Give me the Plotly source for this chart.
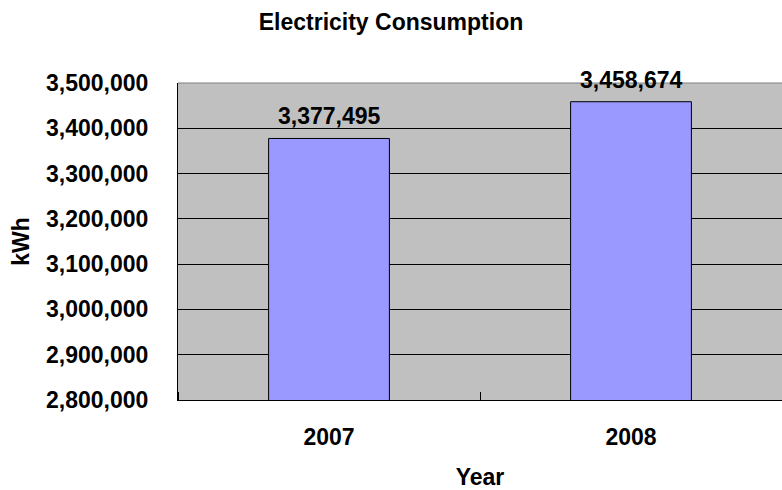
import plotly.graph_objects as go

years = ["2007", "2008"]
consumption = [3377495, 3458674]
y_ticks = [2800000, 2900000, 3000000, 3100000, 3200000, 3300000, 3400000, 3500000]
y_ticktext = [f"{v:,}" for v in y_ticks]
value_labels = [f"{v:,}" for v in consumption]
positions = list(range(len(years)))
boundaries = [p - 0.5 for p in positions] + [positions[-1] + 0.5]

FONT = "Liberation Sans, Arial, sans-serif"
TS = 23

fig = go.Figure()
fig.add_trace(go.Bar(
    x=positions, y=consumption, width=0.4,
    marker=dict(color="#9999FF", line=dict(color="#000000", width=1)),
    hovertext=years, hoverinfo="text+y",
))

for x, y, t in zip(positions, consumption, value_labels):
    fig.add_annotation(x=x, y=y, text=t, showarrow=False, yanchor="bottom",
                       yshift=7, font=dict(family=FONT, size=TS, color="#000", weight="bold"))

fig.update_layout(
    width=782, height=490,
    margin=dict(l=178, r=0, t=83, b=90),
    paper_bgcolor="#FFFFFF", plot_bgcolor="#C0C0C0",
    showlegend=False,
    title=dict(text="Electricity Consumption", x=0.5, xref="container", xanchor="center",
               y=1 - 22 / 490, yref="container", yanchor="middle",
               font=dict(family=FONT, size=23, color="#000", weight="bold")),
    font=dict(family=FONT, color="#000"),
)
fig.update_xaxes(
    range=[boundaries[0], boundaries[-1]], tickvals=positions, ticktext=years,
    showline=True, linecolor="#000", linewidth=1,
    ticks="", showgrid=False, zeroline=False,
    minor=dict(tickvals=boundaries, ticks="inside", ticklen=8, tickcolor="#000", showgrid=False),
    tickfont=dict(family=FONT, size=TS, color="#000", weight="bold"),
    ticklabelstandoff=16,
    title=dict(text="Year", standoff=21,
               font=dict(family=FONT, size=TS, color="#000", weight="bold")),
    automargin=False,
)
fig.update_yaxes(
    range=[2800000, 3500000], tickvals=y_ticks, ticktext=y_ticktext,
    showline=True, linecolor="#000", linewidth=1,
    ticks="inside", ticklen=5, tickcolor="#000",
    showgrid=True, gridcolor="#000", gridwidth=1,
    zeroline=False,
    tickfont=dict(family=FONT, size=TS, color="#000", weight="bold"),
    ticklabelstandoff=24,
    title=dict(text="kWh", standoff=10,
               font=dict(family=FONT, size=TS, color="#000", weight="bold")),
    automargin=False,
)
fig.add_shape(type="line", xref="paper", yref="paper", x0=0, x1=1, y0=1, y1=1,
              line=dict(color="#808080", width=1), layer="above")

fig.write_html("out.html", config={"displayModeBar": False},
               post_script="document.body.style.margin='0';")
